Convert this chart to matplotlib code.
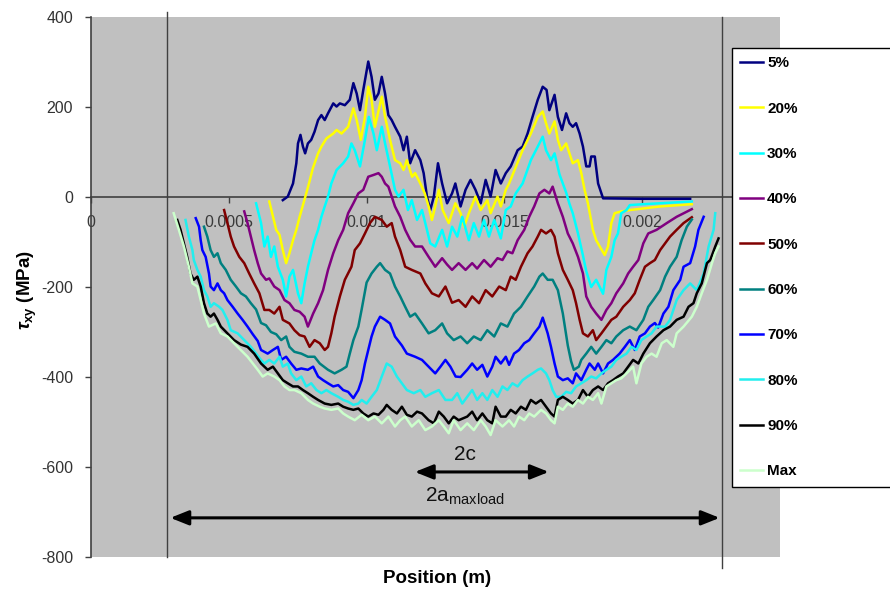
import numpy as np
import matplotlib
matplotlib.use('Agg')
import matplotlib.pyplot as plt

plt.rcParams['font.family'] = ['Liberation Sans', 'DejaVu Sans']
plt.rcParams['mathtext.fontset'] = 'custom'
plt.rcParams['mathtext.rm'] = 'Liberation Sans'
plt.rcParams['mathtext.it'] = 'Liberation Sans:italic:bold'
plt.rcParams['mathtext.bf'] = 'Liberation Sans:bold'
plt.rcParams['axes.unicode_minus'] = False

# shear stress traces, (position in micrometres, tau_xy in MPa)
load_5 = [(696,-7),(714,1),(733,30),(745,75),(751,119),(760,138),(769,112),(777,97),(787,119),(799,127),
          (811,145),(824,171),(836,182),(848,171),(860,186),(879,208),(891,201),(903,208),(921,204),(939,216),
          (952,253),(964,230),(976,193),(988,238),(1006,301),(1018,267),(1030,216),(1043,230),(1055,267),(1067,230),
          (1079,182),(1091,171),(1103,156),(1122,134),(1134,104),(1146,134),(1158,75),(1176,104),(1195,82),(1207,53),
          (1219,1),(1231,-29),(1244,1),(1259,75),(1274,30),(1292,-14),(1310,8),(1322,30),(1341,-21),(1359,16),
          (1377,38),(1395,16),(1414,-14),(1432,38),(1450,1),(1468,60),(1487,30),(1505,53),(1523,68),(1548,104),
          (1566,112),(1584,141),(1602,178),(1621,216),(1639,245),(1653,238),(1663,193),(1682,227),(1694,178),(1709,149),
          (1724,186),(1736,164),(1748,156),(1760,164),(1773,141),(1785,112),(1797,68),(1809,68),(1815,90),(1828,90),
          (1840,30),(1858,-3),(2000,-4),(2174,-4)]
load_20 = [(647,-10),(672,-73),(684,-84),(696,-118),(708,-147),(720,-125),(733,-96),(745,-73),(757,-44),(769,-18),
           (781,8),(793,35),(805,64),(824,97),(836,112),(854,130),(879,141),(891,149),(909,141),(933,156),
           (952,197),(964,171),(979,127),(994,178),(1006,245),(1018,216),(1030,156),(1055,223),(1067,178),(1085,127),
           (1103,82),(1122,75),(1134,60),(1146,82),(1165,45),(1176,53),(1195,30),(1211,8),(1225,-21),(1237,-51),
           (1249,-21),(1262,16),(1276,-29),(1298,-58),(1322,-14),(1341,-36),(1354,-66),(1371,-36),(1395,1),(1414,-29),
           (1438,-7),(1450,-36),(1475,1),(1487,-21),(1505,16),(1517,30),(1566,104),(1596,141),(1621,178),(1639,190),
           (1651,164),(1663,141),(1682,168),(1694,127),(1706,104),(1724,119),(1736,97),(1748,75),(1767,82),(1779,53),
           (1791,16),(1803,-14),(1821,-73),(1833,-96),(1846,-110),(1864,-129),(1876,-110),(1888,-58),(1900,-36),(1924,-32),
           (1955,-29),(2065,-21),(2180,-16)]
load_30 = [(599,-14),(617,-58),(629,-110),(641,-88),(653,-133),(665,-110),(678,-155),(696,-184),(708,-221),(720,-177),
           (733,-162),(751,-214),(763,-236),(775,-192),(787,-155),(799,-125),(811,-96),(824,-73),(836,-44),(848,-21),
           (860,1),(872,30),(891,60),(915,75),(933,90),(945,119),(957,104),(976,68),(994,127),(1008,178),
           (1025,141),(1037,104),(1055,156),(1067,119),(1085,68),(1103,16),(1116,1),(1134,16),(1150,-29),(1164,-7),
           (1183,-51),(1201,-29),(1219,-73),(1231,-103),(1249,-110),(1274,-73),(1292,-110),(1310,-66),(1329,-88),(1347,-44),
           (1371,-96),(1389,-58),(1408,-88),(1426,-51),(1444,-88),(1463,-51),(1487,-92),(1505,-29),(1523,-21),(1541,8),
           (1566,30),(1596,82),(1621,112),(1639,134),(1651,104),(1669,82),(1682,97),(1700,50),(1724,10),(1736,-15),
           (1748,-36),(1767,-81),(1785,-130),(1797,-165),(1815,-200),(1833,-184),(1858,-215),(1870,-162),(1888,-133),(1900,-96),
           (1912,-81),(1924,-36),(1943,-29),(1955,-18),(2004,-16),(2180,-10)]
load_40 = [(556,-32),(568,-58),(580,-88),(592,-118),(605,-147),(617,-170),(635,-184),(647,-181),(665,-199),(684,-207),
           (702,-229),(720,-236),(738,-251),(757,-255),(775,-266),(787,-288),(806,-259),(824,-236),(842,-207),(860,-162),
           (879,-125),(897,-96),(915,-73),(933,-36),(952,-14),(970,8),(988,16),(1006,45),(1025,49),(1043,53),
           (1055,45),(1067,30),(1079,23),(1091,1),(1103,-21),(1122,-44),(1140,-73),(1158,-95),(1176,-110),(1201,-110),
           (1225,-133),(1249,-155),(1274,-136),(1292,-150),(1310,-162),(1334,-147),(1359,-162),(1383,-147),(1401,-159),(1426,-140),
           (1450,-155),(1475,-136),(1493,-140),(1511,-121),(1529,-125),(1548,-96),(1572,-73),(1590,-44),(1608,-21),(1627,8),
           (1645,16),(1663,8),(1675,23),(1694,-14),(1712,-44),(1730,-81),(1748,-103),(1767,-133),(1785,-170),(1797,-221),
           (1815,-244),(1833,-259),(1852,-273),(1870,-251),(1888,-236),(1906,-214),(1931,-192),(1949,-170),(1967,-155),(1986,-140),
           (2004,-103),(2022,-81),(2052,-73),(2089,-58),(2125,-44),(2180,-27)]
load_50 = [(483,-29),(495,-58),(507,-88),(519,-110),(538,-133),(556,-147),(574,-170),(592,-192),(611,-214),(629,-251),
           (647,-251),(665,-259),(684,-244),(696,-273),(720,-281),(738,-296),(757,-307),(775,-310),(793,-333),(811,-318),
           (830,-325),(848,-340),(860,-333),(872,-303),(884,-266),(903,-221),(921,-184),(945,-155),(957,-118),(976,-103),
           (994,-81),(1012,-58),(1030,-44),(1055,-51),(1073,-66),(1091,-58),(1103,-88),(1122,-118),(1140,-155),(1164,-162),
           (1195,-170),(1213,-192),(1237,-214),(1262,-221),(1286,-199),(1310,-235),(1334,-229),(1359,-244),(1383,-221),(1408,-236),
           (1432,-207),(1456,-221),(1481,-199),(1505,-207),(1523,-177),(1541,-184),(1560,-155),(1584,-125),(1602,-110),(1621,-88),
           (1633,-73),(1651,-81),(1669,-73),(1682,-88),(1694,-125),(1712,-162),(1730,-184),(1748,-207),(1760,-236),(1773,-273),
           (1785,-303),(1803,-310),(1821,-296),(1833,-318),(1852,-303),(1870,-288),(1888,-273),(1906,-266),(1931,-244),(1955,-229),
           (1973,-214),(1991,-184),(2010,-155),(2028,-147),(2046,-140),(2065,-118),(2083,-103),(2101,-88),(2125,-73),(2150,-58),
           (2180,-45)]
load_60 = [(410,-66),(422,-88),(434,-118),(446,-133),(459,-125),(471,-147),(489,-162),(507,-184),(526,-199),(544,-214),
           (562,-221),(580,-236),(599,-250),(617,-280),(635,-285),(653,-300),(672,-305),(690,-318),(708,-310),(720,-333),
           (738,-344),(763,-348),(787,-355),(811,-355),(830,-370),(860,-384),(884,-392),(909,-384),(927,-377),(939,-348),
           (952,-318),(970,-288),(982,-250),(1000,-190),(1018,-170),(1037,-155),(1049,-147),(1067,-162),(1085,-170),(1103,-199),
           (1122,-221),(1140,-244),(1158,-266),(1176,-259),(1201,-281),(1225,-303),(1249,-296),(1274,-281),(1292,-303),(1316,-318),
           (1341,-310),(1365,-325),(1389,-310),(1414,-318),(1438,-296),(1463,-310),(1487,-281),(1511,-288),(1535,-259),(1560,-244),
           (1584,-221),(1608,-199),(1627,-177),(1639,-170),(1657,-184),(1675,-184),(1694,-207),(1712,-259),(1730,-330),(1742,-365),
           (1752,-384),(1770,-377),(1779,-362),(1797,-348),(1815,-333),(1833,-348),(1852,-333),(1870,-318),(1888,-325),(1906,-310),
           (1931,-296),(1955,-288),(1979,-296),(2004,-273),(2022,-244),(2040,-229),(2065,-207),(2083,-177),(2101,-155),(2125,-133),
           (2143,-96),(2162,-66),(2180,-50)]
load_70 = [(380,-47),(392,-66),(398,-96),(404,-118),(416,-133),(428,-170),(434,-199),(446,-207),(459,-192),(471,-207),
           (483,-214),(495,-229),(514,-244),(532,-259),(550,-273),(568,-288),(587,-305),(605,-320),(617,-340),(641,-348),
           (660,-340),(678,-333),(690,-362),(708,-355),(726,-370),(745,-384),(763,-381),(787,-384),(806,-377),(824,-399),
           (842,-407),(860,-414),(879,-421),(897,-418),(915,-429),(933,-433),(952,-447),(970,-429),(982,-407),(994,-370),
           (1006,-340),(1018,-310),(1030,-288),(1049,-266),(1067,-273),(1085,-281),(1103,-310),(1128,-330),(1146,-348),(1176,-355),
           (1201,-362),(1225,-377),(1249,-392),(1268,-377),(1286,-362),(1304,-377),(1323,-399),(1341,-400),(1365,-384),(1383,-370),
           (1401,-384),(1420,-373),(1438,-399),(1456,-377),(1468,-355),(1487,-370),(1505,-355),(1517,-373),(1535,-348),(1553,-340),
           (1572,-325),(1590,-318),(1608,-303),(1627,-288),(1639,-268),(1657,-303),(1669,-333),(1682,-370),(1694,-399),(1712,-407),
           (1730,-403),(1748,-414),(1760,-392),(1779,-407),(1797,-384),(1809,-370),(1828,-384),(1840,-370),(1858,-392),(1876,-370),
           (1894,-362),(1918,-348),(1937,-333),(1955,-318),(1973,-340),(1991,-310),(2010,-303),(2028,-288),(2046,-280),(2058,-290),
           (2077,-259),(2095,-244),(2113,-207),(2138,-184),(2150,-155),(2174,-147),(2192,-110),(2204,-73),(2223,-44)]
load_80 = [(343,-51),(355,-88),(368,-118),(373,-140),(386,-162),(398,-177),(410,-207),(422,-221),(434,-244),(446,-236),
           (465,-244),(477,-251),(495,-273),(507,-296),(532,-303),(556,-318),(580,-333),(599,-348),(617,-362),(629,-370),
           (647,-362),(665,-370),(684,-355),(696,-377),(714,-370),(726,-392),(745,-407),(763,-399),(781,-421),(799,-414),
           (818,-429),(836,-436),(854,-429),(872,-436),(897,-444),(915,-451),(933,-455),(952,-462),(970,-459),(982,-451),
           (1000,-459),(1018,-444),(1037,-429),(1055,-399),(1073,-370),(1091,-377),(1110,-399),(1128,-414),(1146,-429),(1171,-436),
           (1195,-429),(1213,-444),(1237,-436),(1262,-429),(1286,-451),(1310,-451),(1329,-436),(1347,-459),(1365,-444),(1383,-429),
           (1401,-451),(1420,-436),(1438,-451),(1456,-429),(1475,-444),(1493,-421),(1511,-429),(1529,-414),(1548,-421),(1566,-407),
           (1584,-399),(1602,-392),(1621,-384),(1633,-381),(1651,-392),(1663,-407),(1675,-429),(1688,-444),(1706,-444),(1724,-433),
           (1742,-436),(1760,-421),(1779,-414),(1797,-407),(1815,-399),(1833,-403),(1852,-392),(1870,-384),(1888,-377),(1906,-362),
           (1924,-355),(1943,-348),(1961,-333),(1979,-340),(1997,-318),(2016,-310),(2034,-303),(2052,-288),(2083,-288),(2101,-273),
           (2125,-229),(2150,-207),(2174,-192),(2198,-207),(2223,-170),(2241,-110),(2259,-73),(2265,-36)]
load_90 = [(313,-51),(325,-73),(337,-103),(349,-133),(361,-170),(373,-184),(386,-177),(398,-199),(410,-236),(422,-259),
           (434,-266),(446,-259),(459,-273),(471,-288),(495,-303),(519,-318),(544,-328),(568,-333),(592,-348),(617,-370),
           (641,-384),(660,-377),(678,-392),(696,-407),(714,-414),(733,-421),(751,-421),(769,-429),(787,-436),(806,-444),
           (824,-451),(848,-459),(872,-462),(897,-459),(915,-466),(933,-470),(952,-473),(970,-470),(988,-481),(1006,-488),
           (1025,-481),(1043,-484),(1061,-473),(1073,-462),(1091,-473),(1110,-481),(1128,-466),(1146,-484),(1164,-488),(1183,-477),
           (1201,-481),(1225,-496),(1244,-503),(1262,-477),(1280,-488),(1298,-503),(1316,-488),(1334,-496),(1365,-488),(1383,-477),
           (1401,-496),(1420,-481),(1438,-496),(1456,-503),(1468,-466),(1487,-488),(1505,-488),(1523,-473),(1541,-481),(1560,-466),
           (1578,-473),(1596,-451),(1614,-459),(1633,-451),(1651,-466),(1669,-481),(1682,-488),(1694,-451),(1712,-444),(1730,-451),
           (1748,-459),(1767,-451),(1785,-429),(1803,-444),(1821,-429),(1840,-421),(1858,-429),(1876,-414),(1894,-407),(1912,-399),
           (1931,-392),(1949,-377),(1967,-362),(1986,-370),(2004,-348),(2028,-325),(2052,-310),(2077,-296),(2101,-288),(2125,-273),
           (2150,-266),(2168,-244),(2186,-236),(2198,-214),(2216,-192),(2235,-147),(2247,-140),(2265,-110),(2277,-92)]
load_max = [(300,-36),(319,-73),(337,-110),(355,-155),(368,-192),(386,-199),(410,-259),(428,-288),(453,-281),(471,-303),
            (495,-310),(532,-333),(568,-355),(605,-384),(623,-399),(641,-392),(665,-399),(684,-407),(702,-421),(720,-429),
            (738,-429),(763,-436),(787,-451),(806,-459),(830,-466),(848,-470),(872,-473),(897,-470),(915,-481),(933,-488),
            (957,-496),(982,-484),(1006,-496),(1030,-488),(1055,-503),(1079,-488),(1103,-510),(1122,-496),(1140,-488),(1164,-510),
            (1189,-496),(1213,-518),(1237,-510),(1262,-496),(1280,-510),(1298,-525),(1316,-496),(1341,-518),(1365,-503),(1389,-518),
            (1414,-496),(1432,-510),(1450,-529),(1468,-496),(1493,-510),(1517,-496),(1535,-510),(1553,-488),(1572,-496),(1590,-481),
            (1608,-488),(1633,-473),(1651,-481),(1669,-496),(1682,-503),(1694,-466),(1712,-473),(1730,-459),(1748,-466),(1767,-451),
            (1785,-459),(1803,-444),(1821,-451),(1840,-436),(1852,-459),(1870,-421),(1888,-414),(1906,-407),(1924,-403),(1943,-392),
            (1967,-377),(1979,-414),(1997,-370),(2016,-355),(2034,-348),(2052,-355),(2071,-325),(2089,-318),(2113,-333),(2125,-303),
            (2150,-288),(2180,-266),(2198,-244),(2216,-214),(2235,-184),(2253,-147),(2265,-125),(2277,-110)]

curves = [load_5, load_20, load_30, load_40, load_50, load_60, load_70, load_80, load_90, load_max]
labels = ['5%', '20%', '30%', '40%', '50%', '60%', '70%', '80%', '90%', 'Max']
colors = ['#000080', '#FFFF00', '#00FFFF', '#800080', '#800000',
          '#008080', '#0000FF', '#22EEEE', '#000000', '#CCFFCC']

xticks = [0, 0.0005, 0.001, 0.0015, 0.002]
xtick_labels = ['0', '0.0005', '0.001', '0.0015', '0.002']
yticks = [-800, -600, -400, -200, 0, 200, 400]

# contact width markers (m) and annotation levels (MPa)
edge_left, edge_right = 274e-6, 2289e-6
c_left, c_right, c_level = 1175e-6, 1661e-6, -611
a_left, a_right, a_level = 288e-6, 2281e-6, -713

fig = plt.figure(figsize=(8.9, 5.99), dpi=100)
ax = fig.add_axes([0.10225, 0.07012, 0.77416, 0.90150])
ax.set_facecolor('#C0C0C0')

handles = []
for pts, col, lab in zip(curves, colors, labels):
    x = np.array([p[0] for p in pts]) * 1e-6
    y = [p[1] for p in pts]
    h, = ax.plot(x, y, color=col, lw=1.8, label=lab, zorder=3)
    handles.append(h)

ax.set_xlim(0, 0.0025)
ax.set_ylim(-800, 400)
ax.set_xticks(xticks)
ax.set_xticklabels(xtick_labels)
ax.set_yticks(yticks)
ax.set_axisbelow(True)

for s in ['top', 'right']:
    ax.spines[s].set_visible(False)
ax.spines['bottom'].set_position(('data', 0))
ax.spines['bottom'].set_color('#404040')
ax.spines['bottom'].set_linewidth(1.2)
ax.spines['left'].set_color('#404040')
ax.spines['left'].set_linewidth(1.2)

ax.tick_params(axis='x', direction='out', length=4, width=1, pad=9,
               labelsize=11.5, labelcolor='#3a3a3a', color='#404040')
ax.tick_params(axis='y', direction='out', length=4, width=1, pad=9,
               labelsize=11.5, labelcolor='#333333', color='#404040')

ax.set_xlabel('Position (m)', fontsize=13.5, fontweight='bold')
ax.xaxis.set_label_coords(0.502, -0.025)
ax.set_ylabel(r'$\tau_{\mathbf{xy}}$ (MPa)', fontsize=13.5, fontweight='bold')
ax.yaxis.set_label_coords(-0.075, 0.494)

# contact edges
ax.plot([edge_left, edge_left], [411, -800], color='#404040', lw=1, clip_on=False, zorder=4)
ax.plot([edge_right, edge_right], [400, -825], color='#404040', lw=1, clip_on=False, zorder=4)

arrow = dict(arrowstyle='<|-|>,head_length=0.55,head_width=0.22', color='black',
             lw=2.2, mutation_scale=20, shrinkA=0, shrinkB=0)
ax.annotate('', xy=(c_right, c_level), xytext=(c_left, c_level), arrowprops=arrow, zorder=5)
ax.annotate('', xy=(a_right, a_level), xytext=(a_left, a_level), arrowprops=arrow, zorder=5)
ax.text(1318e-6, -584, '2c', fontsize=15, color='#111111', ha='left', va='baseline', zorder=5)
ax.text(1212e-6, -678, r'$\mathrm{2a_{maxload}}$', fontsize=15, color='#111111',
        ha='left', va='baseline', zorder=5)

leg = fig.legend(handles, labels, loc='upper left',
                 bbox_to_anchor=(732 / 890, 1 - 48 / 599, 0.2, 0), mode='expand',
                 borderaxespad=0, frameon=True, fancybox=False, framealpha=1,
                 edgecolor='black', facecolor='white', prop=dict(weight='bold', size=11),
                 handlelength=1.5, handletextpad=0.25, borderpad=0.55, labelspacing=2.05)
leg.get_frame().set_linewidth(1.0)

fig.savefig('out.png', dpi=100)
